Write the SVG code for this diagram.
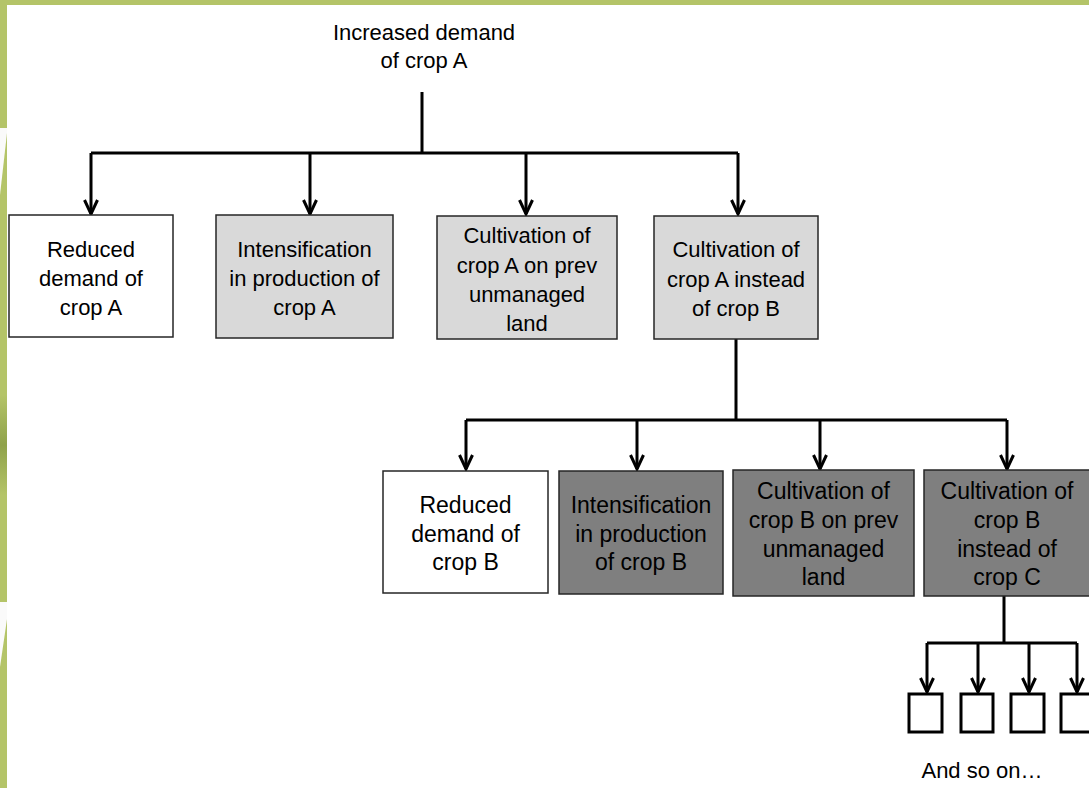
<svg xmlns="http://www.w3.org/2000/svg" width="1089" height="788" viewBox="0 0 1089 788">
<defs>
<style>
.bg{fill:#ffffff}
.frame{fill:#b4c468}
.box{stroke:#262626;stroke-width:1.5}
.white{fill:#ffffff}
.light{fill:#d9d9d9}
.dark{fill:#7f7f7f}
.small{fill:#ffffff;stroke:#000;stroke-width:3;}
.conn{fill:none;stroke:#000;stroke-width:3;stroke-linejoin:miter}
.head{fill:none;stroke:#000;stroke-width:3;stroke-linejoin:miter}
text{font-family:"Liberation Sans",Arial,sans-serif;font-size:22px;fill:#000;text-anchor:middle}
.r2{font-size:23px}
</style>
<linearGradient id="shade" x1="0" y1="0" x2="0" y2="1">
<stop offset="0" stop-color="#b4c468"/>
<stop offset="0.5" stop-color="#8fa24a"/>
<stop offset="1" stop-color="#b4c468"/>
</linearGradient>
</defs>
<rect class="bg" x="0" y="0" width="1089" height="788"/>
<g id="frame">
<rect class="frame" x="0" y="0" width="1089" height="5"/>
<rect class="frame" x="0" y="0" width="7" height="788"/>
<rect x="0" y="395" width="7" height="100" fill="url(#shade)"/>
<polygon points="0,128 7,128 7,133 0,195" fill="#fafafa"/>
<polygon points="0,602 7,602 7,619 0,667" fill="#fafafa"/>
</g>
<g id="title">
<text x="424" y="40">Increased demand</text>
<text x="424" y="68">of crop A</text>
</g>
<g id="connectors">
<path class="conn" d="M422,92 V153 M91,153 H738 M91,153 V214 M310,153 V214 M526,153 V214 M738,153 V214"/>
<path class="head" d="M84.5,200 L91,214 L97.5,200 M303.5,200 L310,214 L316.5,200 M519.5,200 L526,214 L532.5,200 M731.5,200 L738,214 L744.5,200"/>
<path class="conn" d="M736,339 V420 M466,420 H1007 M466,420 V469 M637,420 V469 M820,420 V469 M1007,420 V469"/>
<path class="head" d="M459.5,455 L466,469 L472.5,455 M630.5,455 L637,469 L643.5,455 M813.5,455 L820,469 L826.5,455 M1000.5,455 L1007,469 L1013.5,455"/>
<path class="conn" d="M1004,596 V643 M927,643 H1077 M927,643 V692 M978,643 V692 M1029,643 V692 M1077,643 V692"/>
<path class="head" d="M920.5,678 L927,692 L933.5,678 M971.5,678 L978,692 L984.5,678 M1022.5,678 L1029,692 L1035.5,678 M1070.5,678 L1077,692 L1083.5,678"/>
</g>
<g id="a1">
<rect class="box white" x="9" y="215" width="164" height="122"/>
<text x="91" y="257">Reduced</text>
<text x="91" y="286">demand of</text>
<text x="91" y="315">crop A</text>
</g>
<g id="a2">
<rect class="box light" x="216" y="215" width="177" height="123"/>
<text x="304.5" y="257">Intensification</text>
<text x="304.5" y="286">in production of</text>
<text x="304.5" y="315">crop A</text>
</g>
<g id="a3">
<rect class="box light" x="437" y="216" width="180" height="123"/>
<text x="527" y="243">Cultivation of</text>
<text x="527" y="273">crop A on prev</text>
<text x="527" y="302">unmanaged</text>
<text x="527" y="331">land</text>
</g>
<g id="a4">
<rect class="box light" x="654" y="216" width="164" height="123"/>
<text x="736" y="257">Cultivation of</text>
<text x="736" y="287">crop A instead</text>
<text x="736" y="316">of crop B</text>
</g>
<g id="b1">
<rect class="box white" x="383" y="471" width="165" height="122"/>
<text class="r2" x="465.5" y="513">Reduced</text>
<text class="r2" x="465.5" y="542">demand of</text>
<text class="r2" x="465.5" y="570">crop B</text>
</g>
<g id="b2">
<rect class="box dark" x="559" y="471" width="164" height="123"/>
<text class="r2" x="641" y="513">Intensification</text>
<text class="r2" x="641" y="542">in production</text>
<text class="r2" x="641" y="570">of crop B</text>
</g>
<g id="b3">
<rect class="box dark" x="733" y="470" width="181" height="126"/>
<text class="r2" x="823.5" y="499">Cultivation of</text>
<text class="r2" x="823.5" y="528">crop B on prev</text>
<text class="r2" x="823.5" y="557">unmanaged</text>
<text class="r2" x="823.5" y="585">land</text>
</g>
<g id="b4">
<rect class="box dark" x="924" y="470" width="166" height="126"/>
<text class="r2" x="1007" y="499">Cultivation of</text>
<text class="r2" x="1007" y="528">crop B</text>
<text class="r2" x="1007" y="557">instead of</text>
<text class="r2" x="1007" y="585">crop C</text>
</g>
<g id="c1"><rect class="small" x="909" y="694" width="33" height="38"/></g>
<g id="c2"><rect class="small" x="961" y="694" width="32" height="38"/></g>
<g id="c3"><rect class="small" x="1011" y="694" width="33" height="38"/></g>
<g id="c4"><rect class="small" x="1061" y="694" width="33" height="38"/></g>
<g id="note">
<text x="982" y="778">And so on…</text>
</g>
</svg>
